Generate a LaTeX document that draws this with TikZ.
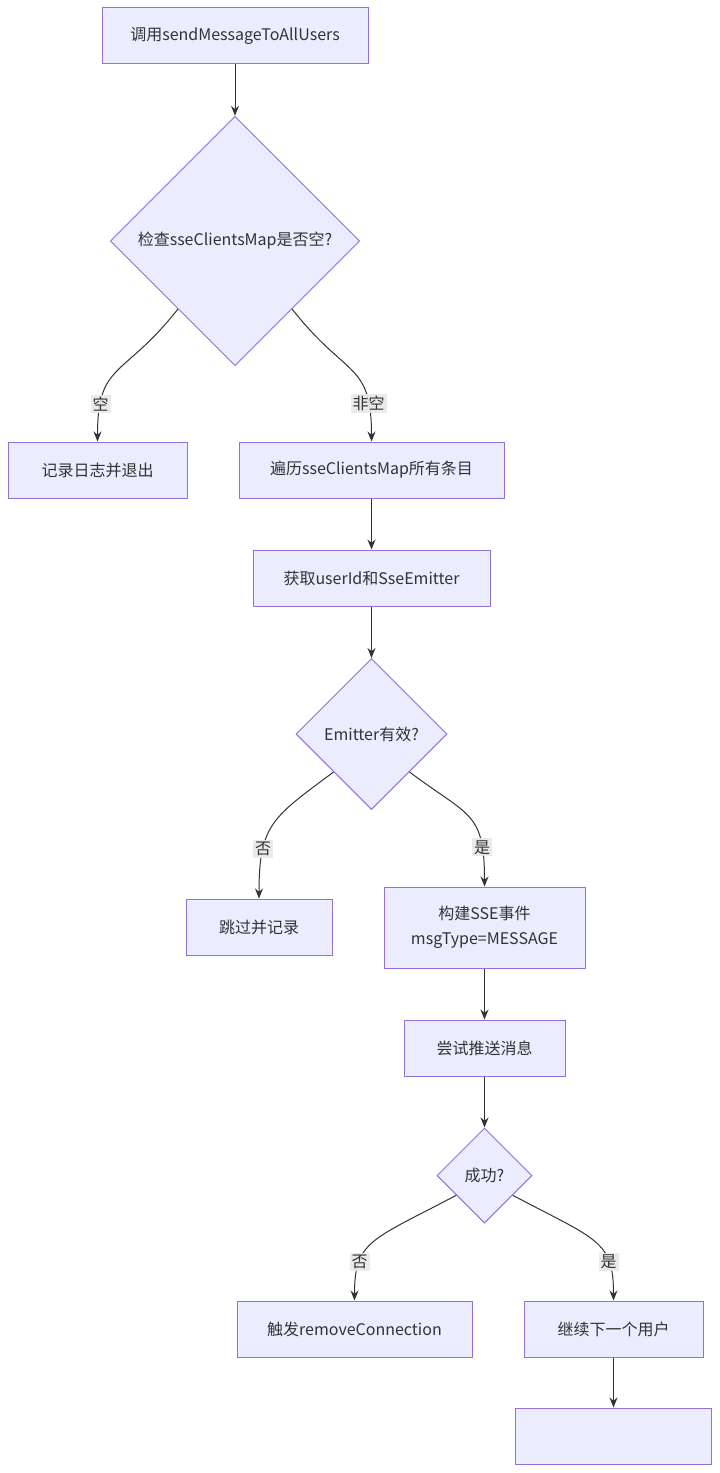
\documentclass[tikz,border=0pt]{standalone}
\usepackage{fontspec}
\setmainfont{Noto Sans CJK SC}
\usetikzlibrary{shapes.geometric, arrows.meta}
\definecolor{boxfill}{HTML}{ECECFF}
\definecolor{boxline}{HTML}{9370DB}
\definecolor{edgeline}{HTML}{333333}
\definecolor{labelbg}{HTML}{E8E8E8}

\begin{document}
\begin{tikzpicture}[x=0.75pt, y=-0.75pt, font=\fontsize{12}{18.5}\selectfont,
    main/.style = {draw=boxline, fill=boxfill, line width=0.75pt, inner sep=0pt, minimum height=42pt, align=center, text=edgeline},
    cond/.style = {main, diamond, aspect=1},
    lbl/.style = {fill=labelbg, fill opacity=0.9, text opacity=1, inner sep=1.5pt, text=edgeline},
    flow/.style = {-{Stealth[length=7.5pt, width=6pt]}, draw=edgeline, line width=0.75pt}]
    \useasboundingbox (0,0) rectangle (720,1473);

    \node[main, minimum width=199.5pt] (1) at (235,36)      {调用sendMessageToAllUsers};
    \node[cond, minimum width=187pt, minimum height=187pt] (2) at (235,241) {检查sseClientsMap是否空?};
    \node[main, minimum width=134.25pt] (3) at (97.5,470)   {记录日志并退出};
    \node[main, minimum width=198.75pt] (4) at (371.5,470)  {遍历sseClientsMap所有条目};
    \node[main, minimum width=177.75pt] (5) at (371.5,578)  {获取userId和SseEmitter};
    \node[cond, minimum width=113.25pt, minimum height=113.25pt] (6) at (371.5,734) {Emitter有效?};
    \node[main, minimum width=109.5pt] (7) at (259,927)     {跳过并记录};
    \node[main, minimum width=150.75pt, minimum height=60.75pt] (8) at (484.5,927.5) {构建SSE事件\\msgType=MESSAGE};
    \node[main, minimum width=120.75pt] (9) at (484.5,1048) {尝试推送消息};
    \node[cond, minimum width=71.25pt, minimum height=71.25pt] (10) at (484.5,1175.5) {成功?};
    \node[main, minimum width=176.25pt] (11) at (354.5,1329) {触发removeConnection};
    \node[main, minimum width=134.25pt] (12) at (613.5,1329) {继续下一个用户};
    \node[main, minimum width=147pt] (13) at (613.5,1436) {};

    \draw[flow] (1) -- (2);
    \draw[flow] (2.230) .. controls +(-55,70) and +(0,-80) .. node[lbl, pos=0.8] {空} (3.north);
    \draw[flow] (2.-50) .. controls +(55,70) and +(0,-80) .. node[lbl, pos=0.8] {非空} (4.north);
    \draw[flow] (4) -- (5);
    \draw[flow] (5) -- (6);
    \draw[flow] (6.225) .. controls +(-60,45) and +(0,-75) .. node[lbl, pos=0.72] {否} (7.north);
    \draw[flow] (6.-45) .. controls +(60,45) and +(0,-75) .. node[lbl, pos=0.78] {是} (8.north);
    \draw[flow] (8) -- (9);
    \draw[flow] (9) -- (10);
    \draw[flow] (10.215) .. controls +(-85,45) and +(0,-60) .. node[lbl, pos=0.72] {否} (11.north);
    \draw[flow] (10.-35) .. controls +(85,45) and +(0,-60) .. node[lbl, pos=0.72] {是} (12.north);
    \draw[flow] (12) -- (13);
\end{tikzpicture}
\end{document}
